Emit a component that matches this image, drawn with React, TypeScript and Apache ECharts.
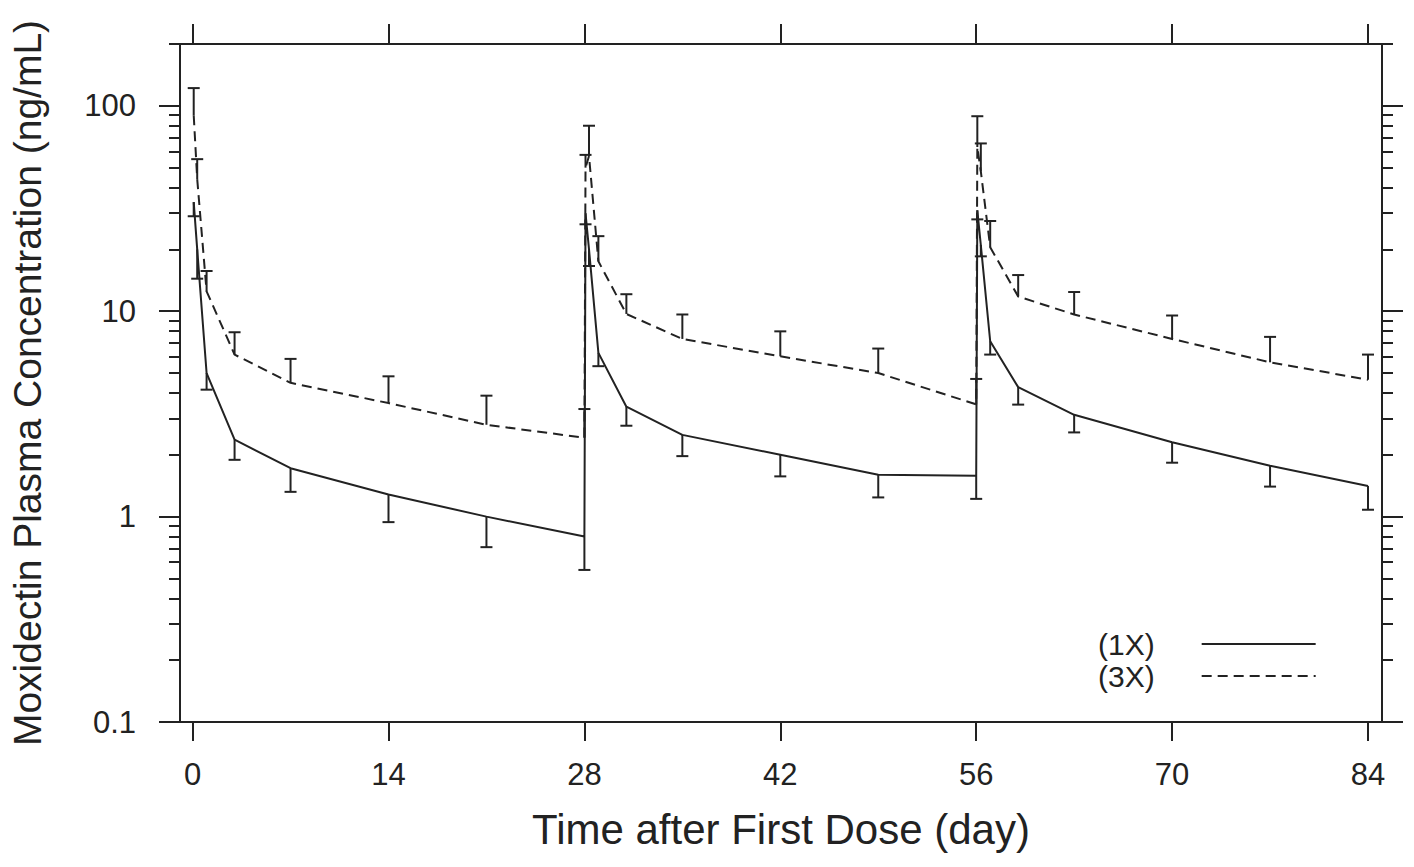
import React, { useEffect, useRef } from 'react';
import * as echarts from 'echarts';

// ---- data ----
const days = [0.08, 0.33, 1, 3, 7, 14, 21, 28, 28.08, 28.33, 29, 31, 35, 42, 49, 56, 56.08, 56.33, 57, 59, 63, 70, 77, 84];
const mean1X = [34, 20, 5.0, 2.37, 1.72, 1.28, 1.0, 0.8, 30, 20, 6.27, 3.43, 2.5, 2.0, 1.6, 1.58, 31, 21, 7.14, 4.27, 3.13, 2.3, 1.77, 1.41];
const lower1X = [29, 14.4, 4.15, 1.89, 1.32, 0.94, 0.71, 0.55, 26.5, 16.6, 5.4, 2.77, 1.97, 1.57, 1.24, 1.22, 28, 18.5, 6.15, 3.51, 2.57, 1.83, 1.4, 1.08];
const mean3X = [90, 44, 12.5, 6.15, 4.48, 3.57, 2.8, 2.42, 50, 57, 17.5, 9.7, 7.33, 6.03, 5.0, 3.52, 63, 48, 20.5, 11.8, 9.64, 7.33, 5.64, 4.64];
const upper3X = [122, 55, 15.7, 7.9, 5.86, 4.82, 3.88, 3.34, 57.7, 80, 23.2, 12.1, 9.64, 7.98, 6.58, 4.68, 89, 65.6, 27.5, 15.0, 12.4, 9.53, 7.5, 6.15];

const xTicks = [0, 14, 28, 42, 56, 70, 84];
const yMajorTicks = [0.1, 1, 10, 100];
const yMinorTicks = [0.2, 0.3, 0.4, 0.5, 0.6, 0.7, 0.8, 0.9, 2, 3, 4, 5, 6, 7, 8, 9, 20, 30, 40, 50, 60, 70, 80, 90, 200];
const seriesNames = ['(1X)', '(3X)'];

const INK = '#222';
const FONT = '"Liberation Sans", Arial, Helvetica, sans-serif';
const axisLineStyle = { color: INK, width: 2 };

function errorBarRender(params: any, api: any) {
  const x = api.value(0);
  const pMean = api.coord([x, api.value(1)]);
  const pEnd = api.coord([x, api.value(2)]);
  const hw = 6;
  const style = { stroke: INK, lineWidth: 2 };
  return {
    type: 'group',
    children: [
      { type: 'line', shape: { x1: pMean[0], y1: pMean[1], x2: pEnd[0], y2: pEnd[1] }, style },
      { type: 'line', shape: { x1: pEnd[0] - hw, y1: pEnd[1], x2: pEnd[0] + hw, y2: pEnd[1] }, style },
    ],
  };
}

export default function App() {
  const ref = useRef<HTMLDivElement>(null);

  useEffect(() => {
    if (!ref.current) return;
    const chart = echarts.init(ref.current, undefined, { renderer: 'svg' });

    const logAxisBase = {
      type: 'log' as const,
      logBase: 10,
      min: 0.1,
      max: 200,
      splitLine: { show: false },
      minorTick: { show: false },
    };
    const xAxisBase = {
      type: 'value' as const,
      min: -0.9,
      max: 85,
      splitLine: { show: false },
    };

    const option: any = {
      animation: false,
      backgroundColor: '#fff',
      textStyle: { fontFamily: FONT },
      grid: { left: 180, right: 32, top: 44, bottom: 145, containLabel: false },
      legend: {
        data: seriesNames,
        orient: 'vertical',
        left: 1093,
        top: 624,
        align: 'right',
        itemWidth: 114,
        itemHeight: 16,
        itemGap: 2,
        selectedMode: false,
        itemStyle: { opacity: 0 },
        textStyle: { fontSize: 30, color: INK, fontFamily: FONT, lineHeight: 30, padding: [0, 42, 0, 0] },
      },
      xAxis: [
        {
          ...xAxisBase,
          position: 'bottom',
          axisLine: { show: true, onZero: false, lineStyle: axisLineStyle },
          axisTick: { show: true, inside: false, length: 19, customValues: xTicks, lineStyle: axisLineStyle },
          axisLabel: { show: true, customValues: xTicks, margin: 37, fontSize: 31, color: INK, fontFamily: FONT },
          name: 'Time after First Dose (day)',
          nameLocation: 'middle',
          nameGap: 86,
          nameTextStyle: { fontSize: 42, color: INK, fontFamily: FONT },
        },
        {
          ...xAxisBase,
          position: 'top',
          axisLine: { show: true, onZero: false, lineStyle: axisLineStyle },
          axisTick: { show: true, inside: false, length: 20, customValues: xTicks, lineStyle: axisLineStyle },
          axisLabel: { show: false },
        },
      ],
      yAxis: [
        {
          ...logAxisBase,
          position: 'left',
          axisLine: { show: true, onZero: false, lineStyle: axisLineStyle },
          axisTick: { show: true, inside: false, length: 21, customValues: yMajorTicks, lineStyle: axisLineStyle },
          axisLabel: {
            show: true,
            customValues: yMajorTicks,
            margin: 44,
            fontSize: 31,
            color: INK,
            fontFamily: FONT,
            formatter: (v: number) => String(Number(Number(v).toPrecision(6))),
          },
          name: 'Moxidectin Plasma Concentration (ng/mL)',
          nameLocation: 'middle',
          nameGap: 133,
          nameTextStyle: { fontSize: 39, color: INK, fontFamily: FONT },
        },
        {
          ...logAxisBase,
          position: 'left',
          axisLine: { show: false, onZero: false },
          axisTick: { show: true, inside: false, length: 11, customValues: yMinorTicks, lineStyle: axisLineStyle },
          axisLabel: { show: false },
        },
        {
          ...logAxisBase,
          position: 'right',
          axisLine: { show: true, onZero: false, lineStyle: axisLineStyle },
          axisTick: { show: true, inside: false, length: 21, customValues: yMajorTicks, lineStyle: axisLineStyle },
          axisLabel: { show: false },
        },
        {
          ...logAxisBase,
          position: 'right',
          axisLine: { show: false, onZero: false },
          axisTick: { show: true, inside: false, length: 11, customValues: yMinorTicks, lineStyle: axisLineStyle },
          axisLabel: { show: false },
        },
      ],
      series: [
        {
          name: seriesNames[0],
          type: 'line',
          xAxisIndex: 0,
          yAxisIndex: 0,
          symbol: 'none',
          data: days.map((d, i) => [d, mean1X[i]]),
          lineStyle: { color: INK, width: 2, type: 'solid' },
          itemStyle: { color: INK },
          z: 3,
        },
        {
          name: seriesNames[1],
          type: 'line',
          xAxisIndex: 0,
          yAxisIndex: 0,
          symbol: 'none',
          data: days.map((d, i) => [d, mean3X[i]]),
          lineStyle: { color: INK, width: 2, type: [10, 6] },
          itemStyle: { color: INK },
          z: 3,
        },
        {
          name: seriesNames[0],
          type: 'custom',
          xAxisIndex: 0,
          yAxisIndex: 0,
          renderItem: errorBarRender,
          encode: { x: 0, y: [1, 2] },
          data: days.map((d, i) => [d, mean1X[i], lower1X[i]]),
          z: 4,
        },
        {
          name: seriesNames[1],
          type: 'custom',
          xAxisIndex: 0,
          yAxisIndex: 0,
          renderItem: errorBarRender,
          encode: { x: 0, y: [1, 2] },
          data: days.map((d, i) => [d, mean3X[i], upper3X[i]]),
          z: 4,
        },
      ],
    };

    chart.setOption(option);
    return () => chart.dispose();
  }, []);

  return (
    <div
      ref={ref}
      style={{ position: 'fixed', left: 0, top: 0, width: 1414, height: 867, background: '#fff' }}
    />
  );
}
